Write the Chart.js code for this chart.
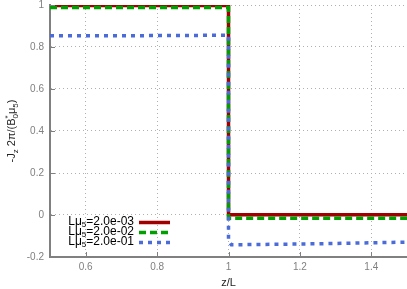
<!DOCTYPE html>
<html>
<head>
<meta charset="utf-8">
<script src="https://cdn.jsdelivr.net/npm/chart.js@4"></script>
<style>
  html, body { margin: 0; padding: 0; background: #fff; }
  #wrap { width: 407px; height: 289px; }
</style>
</head>
<body>
<div id="wrap"><canvas id="myCanvas" width="407" height="289"></canvas></div>
<script>
// values
const seriesNames = ["2.0e-03", "2.0e-02", "2.0e-01"];

const zRed = [0.5, 1.0, 1.0, 1.5];
const jRed = [0.998, 0.998, 0.001, 0.001];

const zGreen = [0.5, 1.0, 1.0, 1.5];
const jGreen = [0.988, 0.988, -0.016, -0.016];

const zBlue = [0.5, 0.75, 1.0, 1.0, 1.008, 1.25, 1.5];
const jBlue = [0.853, 0.854, 0.856, -0.12, -0.142, -0.137, -0.129];

const xTicks = [0.6, 0.8, 1, 1.2, 1.4];
const yTicks = [-0.2, 0, 0.2, 0.4, 0.6, 0.8, 1];

const colors = ["#a00000", "#00a000", "#4a6bd8"];
const dashes = [[], [7, 4], [4, 5]];

function pts(xs, ys) {
    return xs.map((x, i) => ({ x: x, y: ys[i] }))
}

const FONT = "'Liberation Sans', Arial, sans-serif";

// inward ticks, axis titles and the legend
const extras = {
    id: "extras",
    afterDraw(chart) {
        const ctx = chart.ctx;
        const xs = chart.scales.x, ys = chart.scales.y;
        const area = chart.chartArea;
        ctx.save();
        ctx.strokeStyle = "#808080";
        ctx.lineWidth = 1;
        ctx.beginPath();
        xTicks.forEach(t => {
            const px = Math.round(xs.getPixelForValue(t)) + 0.5;
            ctx.moveTo(px, area.bottom);
            ctx.lineTo(px, area.bottom - 5);
        });
        yTicks.forEach(t => {
            const py = Math.round(ys.getPixelForValue(t)) + 0.5;
            ctx.moveTo(area.left, py);
            ctx.lineTo(area.left + 5, py);
        });
        ctx.stroke();

        // x title
        ctx.fillStyle = "#222";
        ctx.font = "11px " + FONT;
        ctx.textAlign = "center";
        ctx.textBaseline = "alphabetic";
        ctx.fillText("z/L", xs.getPixelForValue(1), 286);

        // y title, rotated, with sub/superscripts
        const parts = [
            ["-J", 11, 0], ["z", 8, 3], [" 2\u03c0/(B", 11, 0], ["0", 8, 3],
            ["*", 8, -5], ["\u03bc", 11, 0], ["5", 8, 3], [")", 11, 0]
        ];
        let total = 0;
        parts.forEach(p => {
            ctx.font = p[1] + "px " + FONT;
            if (p[0] !== "*") total += ctx.measureText(p[0]).width;
        });
        ctx.translate(15, 131);
        ctx.rotate(-Math.PI / 2);
        ctx.textAlign = "left";
        let cx = -total / 2;
        let lastW = 0;
        parts.forEach(p => {
            ctx.font = p[1] + "px " + FONT;
            const w = ctx.measureText(p[0]).width;
            if (p[0] === "*") {
                ctx.fillText(p[0], cx - lastW, p[2]);
            } else {
                ctx.fillText(p[0], cx, p[2]);
                cx += w;
                lastW = w;
            }
        });
        ctx.setTransform(1, 0, 0, 1, 0, 0);

        // legend
        const rowsY = [222, 232, 242];
        seriesNames.forEach((name, i) => {
            const y = rowsY[i];
            const segs = [["L\u03bc", 12, 0], ["5", 8, 3], ["=" + name, 12, 0]];
            let w = 0;
            segs.forEach(s => { ctx.font = s[1] + "px " + FONT; w += ctx.measureText(s[0]).width; });
            let x = 134 - w;
            ctx.fillStyle = "#000";
            ctx.textBaseline = "middle";
            segs.forEach(s => {
                ctx.font = s[1] + "px " + FONT;
                ctx.fillText(s[0], x, y + s[2]);
                x += ctx.measureText(s[0]).width;
            });
            ctx.strokeStyle = colors[i];
            ctx.lineWidth = 3.5;
            ctx.setLineDash(dashes[i]);
            ctx.beginPath();
            ctx.moveTo(139, y + 0.5);
            ctx.lineTo(170, y + 0.5);
            ctx.stroke();
            ctx.setLineDash([]);
        });
        ctx.restore();
    }
};

const ctx = document.getElementById("myCanvas").getContext("2d");

new Chart(ctx, {
    type: "scatter",
    data: {
        datasets: [
            { label: seriesNames[0], data: pts(zRed, jRed), borderColor: colors[0], borderDash: dashes[0] },
            { label: seriesNames[1], data: pts(zGreen, jGreen), borderColor: colors[1], borderDash: dashes[1] },
            { label: seriesNames[2], data: pts(zBlue, jBlue), borderColor: colors[2], borderDash: dashes[2] },
        ].map(d => Object.assign(d, {
            showLine: true,
            borderWidth: 3.5,
            pointRadius: 0,
            tension: 0,
            fill: false,
        })).reverse(),
    },
    options: {
        responsive: false,
        animation: false,
        layout: { padding: { top: 5, right: 0, left: 0, bottom: 0 } },
        plugins: {
            legend: { display: false },
            tooltip: { enabled: false },
        },
        scales: {
            x: {
                type: "linear",
                min: 0.5,
                max: 1.5,
                afterBuildTicks: (s) => { s.ticks = xTicks.map(v => ({ value: v })) },
                afterFit: (s) => { s.height = 32; s.paddingLeft = 0; s.paddingRight = 0 },
                ticks: {
                    color: "#808080",
                    font: { family: FONT, size: 10 },
                    padding: 4,
                    maxRotation: 0,
                    callback: (v) => String(v),
                },
                grid: {
                    color: "#b0b0b0",
                    lineWidth: 1,
                    drawTicks: false,
                },
                border: { color: "#808080", width: 2, dash: [1, 3] },
            },
            y: {
                type: "linear",
                min: -0.2,
                max: 1,
                afterBuildTicks: (s) => { s.ticks = yTicks.map(v => ({ value: v })) },
                afterFit: (s) => { s.width = 50; s.paddingTop = 0; s.paddingBottom = 0 },
                ticks: {
                    color: "#808080",
                    font: { family: FONT, size: 10 },
                    padding: 6,
                    callback: (v) => String(Math.round(v * 10) / 10),
                },
                grid: {
                    color: "#b0b0b0",
                    lineWidth: 1,
                    drawTicks: false,
                },
                border: { color: "#808080", width: 2, dash: [1, 3] },
            },
        },
    },
    plugins: [extras],
});
</script>
</body>
</html>
